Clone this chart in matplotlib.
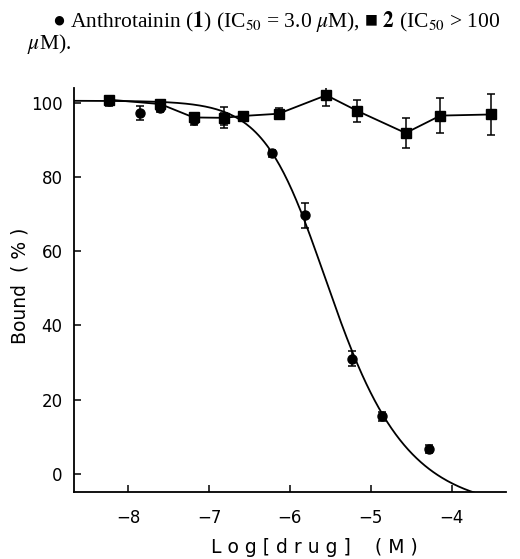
# Displacement curves: Anthrotainin (1) vs compound 2

import numpy as np
import matplotlib.pyplot as plt

plt.rcParams['mathtext.fontset'] = 'stix'

# compound 1 (circles, fitted sigmoid)
x1 = [-8.24, -7.85, -7.6, -7.19, -6.82, -6.22, -5.81, -5.23, -4.86, -4.28]
y1 = [100.3, 97.2, 98.6, 95.4, 95.6, 86.3, 69.6, 31.0, 15.5, 6.7]
e1 = [1.2, 2.0, 1.0, 1.5, 1.5, 1.0, 3.4, 2.0, 1.2, 1.0]

# compound 2 (squares, joined)
x2 = [-8.24, -7.6, -7.19, -6.82, -6.58, -6.14, -5.55, -5.17, -4.57, -4.14, -3.52]
y2 = [100.8, 99.6, 96.0, 95.9, 96.4, 97.0, 102.0, 97.8, 91.8, 96.5, 96.8]
e2 = [1.0, 1.0, 1.0, 2.8, 1.2, 1.5, 3.0, 3.0, 4.0, 4.8, 5.5]

# fitted curve for compound 1 (asymmetric logistic)
top, bottom, logc, hill, asym = 100.5, -10.0, -5.8, 1.25, 0.52

xticks = [-8, -7, -6, -5, -4]
yticks = [0, 20, 40, 60, 80, 100]

fig = plt.figure(figsize=(5.2, 5.59), dpi=100)
ax = fig.add_axes([0.142, 0.12, 0.831, 0.723])

xs = np.linspace(-8.67, -3.5, 300)
ys = bottom + (top - bottom) / (1 + 10 ** ((xs - logc) * hill)) ** asym
ax.plot(xs, ys, color='black', lw=1.3)

ax.errorbar(x1, y1, yerr=e1, fmt='o', color='black', ms=6.5,
            capsize=3, elinewidth=1.1, capthick=1.1)
ax.errorbar(x2, y2, yerr=e2, fmt='s-', color='black', ms=6.5,
            capsize=3, elinewidth=1.1, capthick=1.1, lw=1.3)

ax.set_xlim(-8.67, -3.33)
ax.set_ylim(-4.9, 104)
ax.set_xticks(xticks)
ax.set_xticklabels(['\u2212' + str(-t) for t in xticks])
ax.set_yticks(yticks)
ax.tick_params(direction='in', length=5, width=1.1, labelsize=12)
ax.tick_params(axis='x', pad=12)
ax.tick_params(axis='y', pad=8)
for s in ['top', 'right']:
    ax.spines[s].set_visible(False)
for s in ['left', 'bottom']:
    ax.spines[s].set_linewidth(1.3)

# axis titles placed by hand (letter-spaced like the original)
fig.text(0.605, 0.02, 'L o g [ d r u g ]    ( M )', fontsize=13.5,
         ha='center', va='center')
fig.text(0.038, 0.488, 'Bound  ( % )', fontsize=13.5, rotation=90,
         ha='center', va='center')

fam = ['Liberation Serif', 'DejaVu Sans']
fig.text(0.1, 0.962, '\u25cf Anthrotainin ($\\mathbf{1}$) (IC$_{50}$ = 3.0 $\\mu$M), '
         '\u25a0 $\\mathbf{2}$ (IC$_{50}$ > 100', fontsize=15.5, family=fam,
         ha='left', va='center')
fig.text(0.052, 0.921, '$\\mu$M).', fontsize=15.5, family=fam, ha='left', va='center')

fig.savefig('out.png', dpi=100)
